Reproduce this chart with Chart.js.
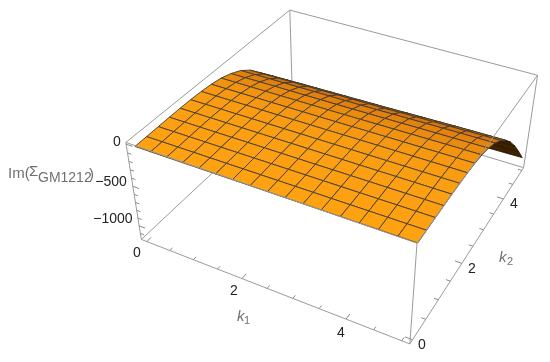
<!DOCTYPE html>
<html><head><meta charset="utf-8">
<style>html,body{margin:0;padding:0;background:#fff}#w{width:550px;height:362px}</style>
<script src="https://cdn.jsdelivr.net/npm/chart.js@4"></script></head>
<body><div id="w"><canvas id="c" width="550" height="362"></canvas></div>
<script>
const k1Values=[-0.03,0.29,0.61,0.93,1.25,1.57,1.89,2.22,2.54,2.86,3.18,3.5,3.83,4.15,4.47,4.79,5.11];
const k2Values=[0,0.31,0.63,0.94,1.25,1.56,1.88,2.19,2.5,2.81,3.13,3.44,3.75,4.06,4.38,4.69,5.0];
const surfaceZ=[
[-45,-42,-38,-34,-32,-33,-38,-50,-72,-112,-172,-262,-385,-535,-705,-890,-1085],
[-44,-41,-37,-33,-31,-32,-37,-49,-71,-110,-170,-260,-381,-530,-699,-884,-1080],
[-43,-40,-36,-32,-30,-31,-36,-48,-70,-108,-168,-258,-377,-525,-693,-878,-1075],
[-42,-39,-35,-31,-29,-30,-35,-47,-69,-107,-166,-256,-373,-520,-688,-872,-1068],
[-41,-38,-34,-30,-28,-29,-35,-46,-68,-106,-165,-254,-370,-515,-682,-866,-1062],
[-40,-37,-33,-29,-27,-28,-34,-45,-67,-105,-164,-252,-367,-510,-676,-860,-1056],
[-39,-36,-32,-28,-26,-27,-33,-44,-66,-104,-163,-250,-364,-505,-670,-854,-1050],
[-38,-35,-31,-27,-25,-26,-32,-43,-65,-103,-162,-248,-361,-500,-665,-848,-1045],
[-37,-34,-30,-26,-24,-25,-31,-42,-64,-102,-161,-246,-358,-496,-660,-842,-1040],
[-36,-33,-29,-25,-23,-24,-29,-41,-62,-100,-158,-244,-355,-492,-656,-836,-1036],
[-35,-32,-28,-24,-22,-23,-28,-39,-60,-98,-155,-240,-350,-487,-650,-831,-1032],
[-34,-31,-27,-23,-21,-22,-27,-38,-58,-96,-152,-236,-346,-482,-645,-827,-1028],
[-33,-30,-26,-22,-20,-21,-26,-36,-56,-93,-149,-232,-342,-477,-641,-823,-1024],
[-32,-29,-25,-21,-19,-20,-25,-35,-54,-91,-146,-229,-338,-473,-637,-820,-1020],
[-31,-28,-24,-20,-18,-19,-24,-33,-52,-89,-144,-226,-335,-470,-634,-818,-1016],
[-30,-27,-23,-19,-17,-18,-23,-32,-51,-87,-142,-223,-332,-467,-632,-816,-1013],
[-29,-26,-22,-18,-16,-17,-22,-31,-50,-85,-140,-220,-330,-465,-630,-815,-1010]];
const k1Ticks=[0,0.5,1,1.5,2,2.5,3,3.5,4,4.5,5];
const k2Ticks=[0,0.5,1,1.5,2,2.5,3,3.5,4,4.5,5];
const zTicks=[0,-100,-200,-300,-400,-500,-600,-700,-800,-900,-1000,-1100];
const k1Min=-0.12,k1Max=5.14,k2Min=-0.1,k2Max=5.1,zTop=20,zBottom=-1180;

// Camera: a perspective projection fitted to the seven visible corners of the box.
const corners=[
 [k1Min,k2Min,zTop,126,143],[k1Max,k2Min,zTop,416,243],[k1Max,k2Max,zTop,538,75],[k1Min,k2Max,zTop,290,10],
 [k1Min,k2Min,zBottom,141,239],[k1Max,k2Min,zBottom,411,344],[k1Max,k2Max,zBottom,523,168]];
const norm=(a,b,c)=>[a/5,b/5,c/1000];
function solve(A,b){const n=b.length;for(let i=0;i<n;i++){let p=i;for(let r=i+1;r<n;r++)if(Math.abs(A[r][i])>Math.abs(A[p][i]))p=r;
 [A[i],A[p]]=[A[p],A[i]];[b[i],b[p]]=[b[p],b[i]];
 for(let r=i+1;r<n;r++){const f=A[r][i]/A[i][i];for(let c=i;c<n;c++)A[r][c]-=f*A[i][c];b[r]-=f*b[i];}}
 const x=new Array(n).fill(0);for(let i=n-1;i>=0;i--){let s=b[i];for(let c=i+1;c<n;c++)s-=A[i][c]*x[c];x[i]=s/A[i][i];}return x;}
const rows=[],rhs=[];
corners.forEach(([a,b,c,u,v])=>{const p=norm(a,b,c);
 rows.push([1,...p,0,0,0,0,-u*p[0],-u*p[1],-u*p[2]]);rhs.push(u);
 rows.push([0,0,0,0,1,...p,-v*p[0],-v*p[1],-v*p[2]]);rhs.push(v);});
const N=11,ATA=Array.from({length:N},()=>new Array(N).fill(0)),ATb=new Array(N).fill(0);
rows.forEach((r,i)=>{for(let a=0;a<N;a++){ATb[a]+=r[a]*rhs[i];for(let b=0;b<N;b++)ATA[a][b]+=r[a]*r[b];}});
const cam=solve(ATA,ATb);
function depth(a,b,c){const p=norm(a,b,c);return 1+cam[8]*p[0]+cam[9]*p[1]+cam[10]*p[2];}
function project(a,b,c){const p=norm(a,b,c),w=depth(a,b,c);
 return {x:(cam[0]+cam[1]*p[0]+cam[2]*p[1]+cam[3]*p[2])/w,y:(cam[4]+cam[5]*p[0]+cam[6]*p[1]+cam[7]*p[2])/w};}

const boxColor='#9a9a9a',tickColor='#8a8a8a',meshColor='#453c2e';
const stroke=(pts,color,width)=>({data:pts,showLine:true,fill:false,borderColor:color,borderWidth:width,pointRadius:0,tension:0,clip:false});
const edge=(a,b,color=boxColor,w=1)=>stroke([project(...a),project(...b)],color,w);
const back=[
 edge([k1Min,k2Min,zTop],[k1Min,k2Max,zTop]),edge([k1Min,k2Max,zTop],[k1Max,k2Max,zTop]),
 edge([k1Min,k2Max,zTop],[k1Min,k2Max,zBottom]),edge([k1Min,k2Min,zBottom],[k1Min,k2Max,zBottom]),
 edge([k1Min,k2Max,zBottom],[k1Max,k2Max,zBottom]),edge([k1Max,k2Max,zTop],[k1Max,k2Max,zBottom]),
 edge([k1Min,k2Min,zTop],[k1Min,k2Min,zBottom])];
const front=[
 edge([k1Min,k2Min,zTop],[k1Max,k2Min,zTop]),edge([k1Max,k2Min,zTop],[k1Max,k2Max,zTop]),
 edge([k1Max,k2Min,zTop],[k1Max,k2Min,zBottom]),edge([k1Min,k2Min,zBottom],[k1Max,k2Min,zBottom]),
 edge([k1Max,k2Min,zBottom],[k1Max,k2Max,zBottom])];
const ticks=[];
k1Ticks.forEach((t,i)=>ticks.push(edge([t,k2Min,zBottom],[t,k2Min+(i%4==0?0.13:0.08),zBottom],tickColor)));
k2Ticks.forEach((t,i)=>ticks.push(edge([k1Max,t,zBottom],[k1Max-(i%4==0?0.13:0.08),t,zBottom],tickColor)));
zTicks.forEach((t,i)=>ticks.push(edge([k1Min,k2Min,t],[k1Min+(i%5==0?0.13:0.08),k2Min,t],tickColor)));

const planeArea=(P)=>{let s=0;P.forEach((p,n)=>{const r=P[(n+1)%P.length];s+=p.x*r.y-r.x*p.y;});return s;};
const topSign=Math.sign(planeArea([project(k1Min,k2Min,zTop),project(k1Max,k2Min,zTop),project(k1Max,k2Max,zTop),project(k1Min,k2Max,zTop)]));
const cells=[];
for(let i=0;i<k1Values.length-1;i++)for(let j=0;j<k2Values.length-1;j++){
 const q=[[i,j],[i+1,j],[i+1,j+1],[i,j+1]];
 const pts=q.map(([a,b])=>project(k1Values[a],k2Values[b],surfaceZ[a][b]));
 const d=q.reduce((s,[a,b])=>s+depth(k1Values[a],k2Values[b],surfaceZ[a][b]),0)/4;
 const slope=Math.abs((surfaceZ[i][j+1]-surfaceZ[i][j])/(k2Values[j+1]-k2Values[j]));
 const t=Math.min(1,slope/420+k2Values[j]*0.05);
 const col=`rgb(${Math.round(255-50*t)},${Math.round(163-60*t)},${Math.round(18-6*t)})`;
 const under=Math.sign(planeArea(pts))!==topSign;
 cells.push({d,ds:{data:[...pts,pts[0]],showLine:true,fill:'shape',backgroundColor:under?'#3e2300':col,borderColor:under?'#2a1800':meshColor,borderWidth:0.9,pointRadius:0,tension:0,clip:false}});
}
cells.sort((a,b)=>b.d-a.d);
const painted=[...back,...cells.map(c=>c.ds),...front,...ticks];
const tickLabels=[
 ['0',117,142],['\u2212500',111,182],['\u22121000',113,219],
 ['0',137,253],['2',234,291],['4',341,333],
 ['0',422,345],['2',472,269],['4',514,204]];
const textPlugin={id:'labels',afterDraw(ch){const g=ch.ctx,sx=ch.scales.x,sy=ch.scales.y;
 const put=(s,x,y,font,color,al='center')=>{g.font=font;g.fillStyle=color;g.textAlign=al;g.textBaseline='middle';g.fillText(s,sx.getPixelForValue(x),sy.getPixelForValue(y));};
 const tf='14px "Liberation Sans"';
 tickLabels.forEach(([s,x,y])=>put(s,x,y,tf,'#222'));
 const gray='#707070';
 put('Im(',8,174,'15px "Liberation Sans"',gray,'left');
 put('\u03A3',29,172,'15px "Liberation Sans"',gray,'left');
 put('GM1212',38,178,'14px "Liberation Sans"',gray,'left');
 put(')',89,175,'15px "Liberation Sans"',gray,'left');
 put('k',237,317,'italic 15px "Liberation Sans"',gray,'left');
 put('1',244,321,'11px "Liberation Sans"',gray,'left');
 put('k',499,258,'italic 15px "Liberation Sans"',gray,'left');
 put('2',507,262,'11px "Liberation Sans"',gray,'left');
}};
// Chart.js paints dataset 0 last, so the list is reversed: first painted becomes last in the array.
new Chart(document.getElementById('c'),{type:'scatter',data:{datasets:painted.slice().reverse()},
 options:{responsive:false,animation:false,events:[],layout:{padding:0},
  plugins:{legend:{display:false},tooltip:{enabled:false}},
  scales:{x:{type:'linear',min:0,max:550,display:false},y:{type:'linear',min:0,max:362,reverse:true,display:false}}},
 plugins:[textPlugin]});
</script></body></html>
